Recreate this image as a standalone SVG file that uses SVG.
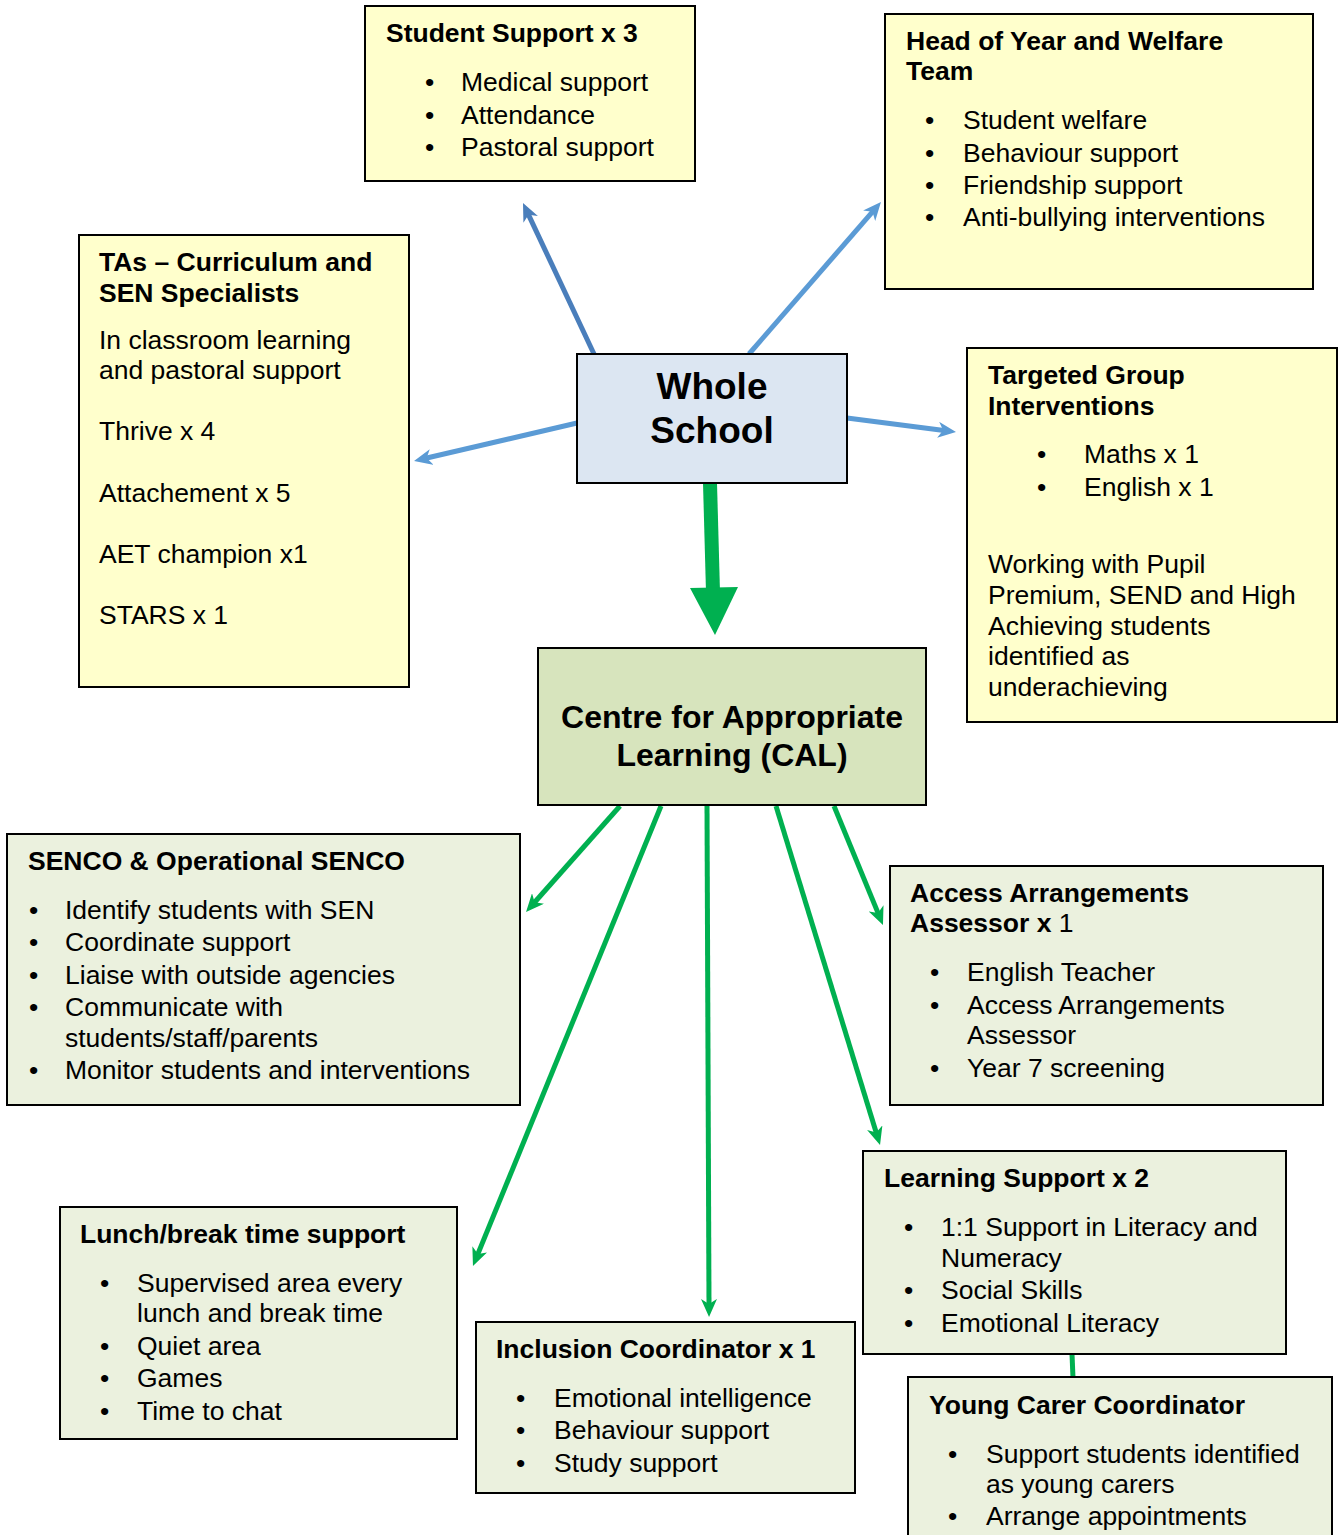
<svg xmlns="http://www.w3.org/2000/svg" width="1339" height="1535" viewBox="0 0 1339 1535">
<style>
text{font-family:"Liberation Sans",Arial,sans-serif;font-size:26.5px;fill:#000}
.b{font-weight:bold}
.y{fill:#FFFFCC;stroke:#000;stroke-width:2}
.g{fill:#EBF1DE;stroke:#000;stroke-width:2}
.blue{stroke:#5B9BD5;stroke-width:5;fill:none}
.dblue{stroke:#4A7EBB;stroke-width:5;fill:none}
.grn{stroke:#00B050;stroke-width:5;fill:none}
</style>
<defs>
<marker id="ab" viewBox="0 0 18 16" refX="6" refY="8" markerWidth="18" markerHeight="16" markerUnits="userSpaceOnUse" orient="auto"><path d="M0,0 L18,8 L0,16 L5,8 z" fill="#5B9BD5"/></marker>
<marker id="adb" viewBox="0 0 18 16" refX="6" refY="8" markerWidth="18" markerHeight="16" markerUnits="userSpaceOnUse" orient="auto"><path d="M0,0 L18,8 L0,16 L5,8 z" fill="#4A7EBB"/></marker>
<marker id="ag" viewBox="0 0 18 16" refX="6" refY="8" markerWidth="18" markerHeight="16" markerUnits="userSpaceOnUse" orient="auto"><path d="M0,0 L18,8 L0,16 L5,8 z" fill="#00B050"/></marker>
</defs>
<rect width="1339" height="1535" fill="#fff"/>
<g id="connectors">
<line class="dblue" x1="594" y1="354" x2="528.1" y2="213.9" marker-end="url(#adb)"/>
<line class="blue" x1="749" y1="354" x2="873.1" y2="211.1" marker-end="url(#ab)"/>
<line class="blue" x1="577" y1="423" x2="425.7" y2="458.3" marker-end="url(#ab)"/>
<line class="blue" x1="847" y1="418" x2="944.1" y2="430.5" marker-end="url(#ab)"/>
<line x1="710" y1="483" x2="713" y2="592" stroke="#00B050" stroke-width="14"/>
<polygon points="690,588 738,587 715,635" fill="#00B050"/>
<line class="grn" x1="620" y1="806" x2="534" y2="903" marker-end="url(#ag)"/>
<line class="grn" x1="661" y1="806" x2="477.5" y2="1254.9" marker-end="url(#ag)"/>
<line class="grn" x1="707" y1="806" x2="709" y2="1305" marker-end="url(#ag)"/>
<line class="grn" x1="776" y1="806" x2="876.5" y2="1133.5" marker-end="url(#ag)"/>
<line class="grn" x1="834" y1="806" x2="878.4" y2="913.9" marker-end="url(#ag)"/>
<line class="grn" x1="1072" y1="1354" x2="1073" y2="1378"/>
</g>
<g id="student-support">
<rect class="y" x="365" y="6" width="330" height="175"/>
<text class="b" x="386" y="42">Student Support x 3</text>
<text x="425" y="91">•</text><text x="461" y="91">Medical support</text>
<text x="425" y="124">•</text><text x="461" y="124">Attendance</text>
<text x="425" y="156">•</text><text x="461" y="156">Pastoral support</text>
</g>
<g id="head-of-year">
<rect class="y" x="885" y="14" width="428" height="275"/>
<text class="b" x="906" y="50">Head of Year and Welfare</text>
<text class="b" x="906" y="80">Team</text>
<text x="925" y="129">•</text><text x="963" y="129">Student welfare</text>
<text x="925" y="162">•</text><text x="963" y="162">Behaviour support</text>
<text x="925" y="194">•</text><text x="963" y="194">Friendship support</text>
<text x="925" y="226">•</text><text x="963" y="226">Anti-bullying interventions</text>
</g>
<g id="tas">
<rect class="y" x="79" y="235" width="330" height="452"/>
<text class="b" x="99" y="271">TAs – Curriculum and</text>
<text class="b" x="99" y="302">SEN Specialists</text>
<text x="99" y="349">In classroom learning</text>
<text x="99" y="379">and pastoral support</text>
<text x="99" y="440">Thrive x 4</text>
<text x="99" y="502">Attachement x 5</text>
<text x="99" y="563">AET champion x1</text>
<text x="99" y="624">STARS x 1</text>
</g>
<g id="whole-school">
<rect x="577" y="354" width="270" height="129" fill="#DCE6F2" stroke="#000" stroke-width="2"/>
<text class="b" x="712" y="399" text-anchor="middle" style="font-size:37px">Whole</text>
<text class="b" x="712" y="443" text-anchor="middle" style="font-size:37px">School</text>
</g>
<g id="targeted">
<rect class="y" x="967" y="348" width="370" height="374"/>
<text class="b" x="988" y="384">Targeted Group</text>
<text class="b" x="988" y="415">Interventions</text>
<text x="1037" y="463">•</text><text x="1084" y="463">Maths x 1</text>
<text x="1037" y="496">•</text><text x="1084" y="496">English x 1</text>
<text x="988" y="573">Working with Pupil</text>
<text x="988" y="604">Premium, SEND and High</text>
<text x="988" y="635">Achieving students</text>
<text x="988" y="665">identified as</text>
<text x="988" y="696">underachieving</text>
</g>
<g id="cal">
<rect x="538" y="648" width="388" height="157" fill="#D7E4BD" stroke="#000" stroke-width="2"/>
<text class="b" x="732" y="728" text-anchor="middle" style="font-size:32px">Centre for Appropriate</text>
<text class="b" x="732" y="766" text-anchor="middle" style="font-size:32px">Learning (CAL)</text>
</g>
<g id="senco">
<rect class="g" x="7" y="834" width="513" height="271"/>
<text class="b" x="28" y="870">SENCO &amp; Operational SENCO</text>
<text x="29" y="919">•</text><text x="65" y="919">Identify students with SEN</text>
<text x="29" y="951">•</text><text x="65" y="951">Coordinate support</text>
<text x="29" y="984">•</text><text x="65" y="984">Liaise with outside agencies</text>
<text x="29" y="1016">•</text><text x="65" y="1016">Communicate with</text>
<text x="65" y="1047">students/staff/parents</text>
<text x="29" y="1079">•</text><text x="65" y="1079">Monitor students and interventions</text>
</g>
<g id="access">
<rect class="g" x="890" y="866" width="433" height="239"/>
<text class="b" x="910" y="902">Access Arrangements</text>
<text x="910" y="932"><tspan class="b">Assessor x</tspan> 1</text>
<text x="930" y="981">•</text><text x="967" y="981">English Teacher</text>
<text x="930" y="1014">•</text><text x="967" y="1014">Access Arrangements</text>
<text x="967" y="1044">Assessor</text>
<text x="930" y="1077">•</text><text x="967" y="1077">Year 7 screening</text>
</g>
<g id="learning-support">
<rect class="g" x="863" y="1151" width="423" height="203"/>
<text class="b" x="884" y="1187">Learning Support x 2</text>
<text x="904" y="1236">•</text><text x="941" y="1236">1:1 Support in Literacy and</text>
<text x="941" y="1267">Numeracy</text>
<text x="904" y="1299">•</text><text x="941" y="1299">Social Skills</text>
<text x="904" y="1332">•</text><text x="941" y="1332">Emotional Literacy</text>
</g>
<g id="lunch">
<rect class="g" x="60" y="1207" width="397" height="232"/>
<text class="b" x="80" y="1243">Lunch/break time support</text>
<text x="100" y="1292">•</text><text x="137" y="1292">Supervised area every</text>
<text x="137" y="1322">lunch and break time</text>
<text x="100" y="1355">•</text><text x="137" y="1355">Quiet area</text>
<text x="100" y="1387">•</text><text x="137" y="1387">Games</text>
<text x="100" y="1420">•</text><text x="137" y="1420">Time to chat</text>
</g>
<g id="inclusion">
<rect class="g" x="476" y="1322" width="379" height="171"/>
<text class="b" x="496" y="1358">Inclusion Coordinator x 1</text>
<text x="516" y="1407">•</text><text x="554" y="1407">Emotional intelligence</text>
<text x="516" y="1439">•</text><text x="554" y="1439">Behaviour support</text>
<text x="516" y="1472">•</text><text x="554" y="1472">Study support</text>
</g>
<g id="young-carer">
<rect class="g" x="908" y="1377" width="424" height="170"/>
<text class="b" x="929" y="1414">Young Carer Coordinator</text>
<text x="948" y="1463">•</text><text x="986" y="1463">Support students identified</text>
<text x="986" y="1493">as young carers</text>
<text x="948" y="1525">•</text><text x="986" y="1525">Arrange appointments</text>
</g>
</svg>
